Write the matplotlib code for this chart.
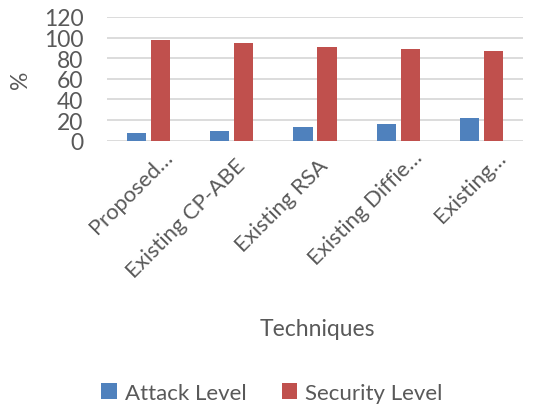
import matplotlib
matplotlib.use("Agg")
import matplotlib.pyplot as plt
import numpy as np
from matplotlib.transforms import ScaledTranslation

categories = ["Proposed…", "Existing CP-ABE", "Existing RSA", "Existing Diffie…", "Existing…"]
attack_level = [7, 9, 13, 16, 22]
security_level = [98, 95, 91, 89, 87]
y_ticks = [0, 20, 40, 60, 80, 100, 120]

FONT = "Lato"
TXT = "#595959"
plt.rcParams["font.family"] = [FONT, "DejaVu Sans"]

fig = plt.figure(figsize=(5.33, 4.10), dpi=100)
W, H = 533, 410
ax = fig.add_axes([107 / W, 1 - 141.7 / H, 416 / W, (141.7 - 18) / H])

x = np.arange(len(categories))
bw = 0.23
off = 0.145
ax.bar(x - off, attack_level, bw, color="#4F81BD", label="Attack Level", zorder=3)
ax.bar(x + off, security_level, bw, color="#C0504D", label="Security Level", zorder=3)

ax.set_xlim(-0.5, len(categories) - 0.5)
ax.set_ylim(0, 120)
ax.set_yticks(y_ticks)
ax.yaxis.grid(True, color="#D9D9D9", linewidth=1.3, zorder=0)
ax.set_axisbelow(True)
for s in ax.spines.values():
    s.set_visible(False)
ax.tick_params(axis="y", length=0, pad=17, labelsize=16.5, labelcolor=TXT)
ax.tick_params(axis="x", length=0, pad=10, labelsize=15.8, labelcolor=TXT)

ax.set_xticks(x)
ax.set_xticklabels(categories, rotation=45, ha="right", va="top", rotation_mode="anchor")
for lab in ax.get_xticklabels():
    t = lab.get_text()
    dx = 14 if t.endswith("…") else 3
    dy = 8 if t.endswith("…") else 0
    lab.set_transform(lab.get_transform() + ScaledTranslation(dx / 100, dy / 100, fig.dpi_scale_trans))

fig.text(21 / W, 1 - 80 / H, "%", fontsize=16.5, color=TXT, rotation=90, ha="center", va="center")

fig.text(317 / W, 1 - 330 / H, "Techniques", fontsize=16.5, color=TXT, ha="center", va="center")

leg = fig.legend(loc="center", bbox_to_anchor=(272 / W, 1 - 394 / H), ncol=2, frameon=False,
                 fontsize=16, handlelength=0.7, handleheight=0.7, columnspacing=1.6, handletextpad=0.35)
for t in leg.get_texts():
    t.set_color(TXT)

fig.savefig("out.png", dpi=100)
